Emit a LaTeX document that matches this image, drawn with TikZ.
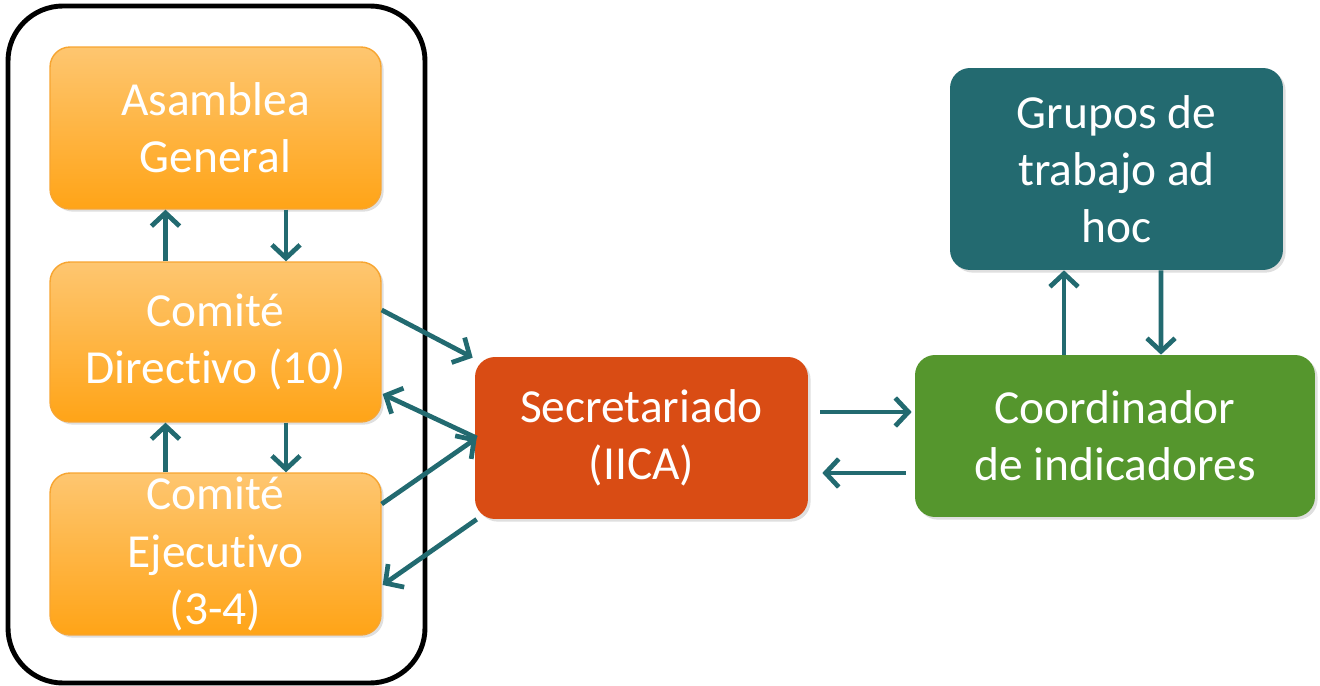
\documentclass[tikz,border=0pt]{standalone}
\usepackage{fontspec}
\setmainfont{Carlito}[Ligatures={NoCommon}]
\usetikzlibrary{arrows.meta,calc,shadows}
\definecolor{teal}{HTML}{226A70}
\definecolor{orTop}{HTML}{FEC670}
\definecolor{orBot}{HTML}{FFA417}
\definecolor{orLine}{HTML}{F7A531}
\definecolor{secred}{HTML}{D94C14}
\definecolor{grpteal}{HTML}{236A70}
\definecolor{coordgreen}{HTML}{55962D}
\tikzset{
  box/.style={rectangle, rounded corners=0.4cm, text=white, align=center,
    font=\fontsize{27}{32.5}\selectfont, inner sep=0pt,
    drop shadow={opacity=0.25, shadow xshift=1.5pt, shadow yshift=-1.5pt}},
  orbox/.style={box, top color=orTop, bottom color=orBot, draw=orLine, line width=0.8pt,
    minimum width=6.62cm},
  link/.style={draw=teal, line width=2.7pt, -{Straight Barb[length=7.5pt,width=16pt]}}
}
\begin{document}
\begin{tikzpicture}[x=0.02cm,y=-0.02cm]
\useasboundingbox (0,0) rectangle (1320,686);
\draw[line width=2.8pt, rounded corners=1.1cm] (8,6) rectangle (425,683);
\node[orbox, minimum height=3.24cm] (AG) at (215.5,128) {Asamblea\\General};
\node[orbox, minimum height=3.2cm] (CD) at (215.5,342) {Comité\\Directivo (10)};
\node[orbox, minimum height=3.24cm] (CE) at (215.5,554) {Comité\\Ejecutivo\\(3-4)};
\node[box, fill=secred, minimum width=6.66cm, minimum height=3.24cm] (SEC) at (641.5,438) {Secretariado\\(IICA)};
\node[box, fill=grpteal, minimum width=6.66cm, minimum height=4.04cm] (GT) at (1116.5,169) {Grupos de\\trabajo ad\\hoc};
\node[box, fill=coordgreen, minimum width=8cm, minimum height=3.24cm] (CO) at (1115,436) {Coordinador\\de indicadores};
% vertical arrows left
\draw[link] ($(CD.north)+(-50,0)$) -- ($(AG.south)+(-50,0)$);
\draw[link] ($(AG.south)+(70.5,0)$) -- ($(CD.north)+(70.5,0)$);
\draw[link] ($(CE.north)+(-50,0)$) -- ($(CD.south)+(-50,0)$);
\draw[link] ($(CD.south)+(70.5,0)$) -- ($(CE.north)+(70.5,0)$);
% diagonal arrows
\draw[link] ($(CD.east)+(0,-32)$) -- ($(SEC.north west)+(-2,1)$);
\draw[link] ($(SEC.west)+(2,0)$) -- ($(CD.east)+(1,52)$);
\draw[link] ($(CE.east)+(0,-50)$) -- ($(SEC.west)+(2,0)$);
\draw[link] ($(SEC.south west)+(2,0)$) -- ($(CE.east)+(1,31)$);
% horizontal
\draw[link] ($(SEC.east)+(12,-26)$) -- ($(CO.west)+(-3,-24)$);
\draw[link] ($(CO.west)+(-9,37)$) -- ($(SEC.east)+(14,35)$);
% right verticals
\draw[link] ($(CO.north)+(-51,0)$) -- ($(GT.south)+(-52.5,0)$);
\draw[link] ($(GT.south)+(44.5,0)$) -- ($(CO.north)+(46,0)$);
\end{tikzpicture}
\end{document}
